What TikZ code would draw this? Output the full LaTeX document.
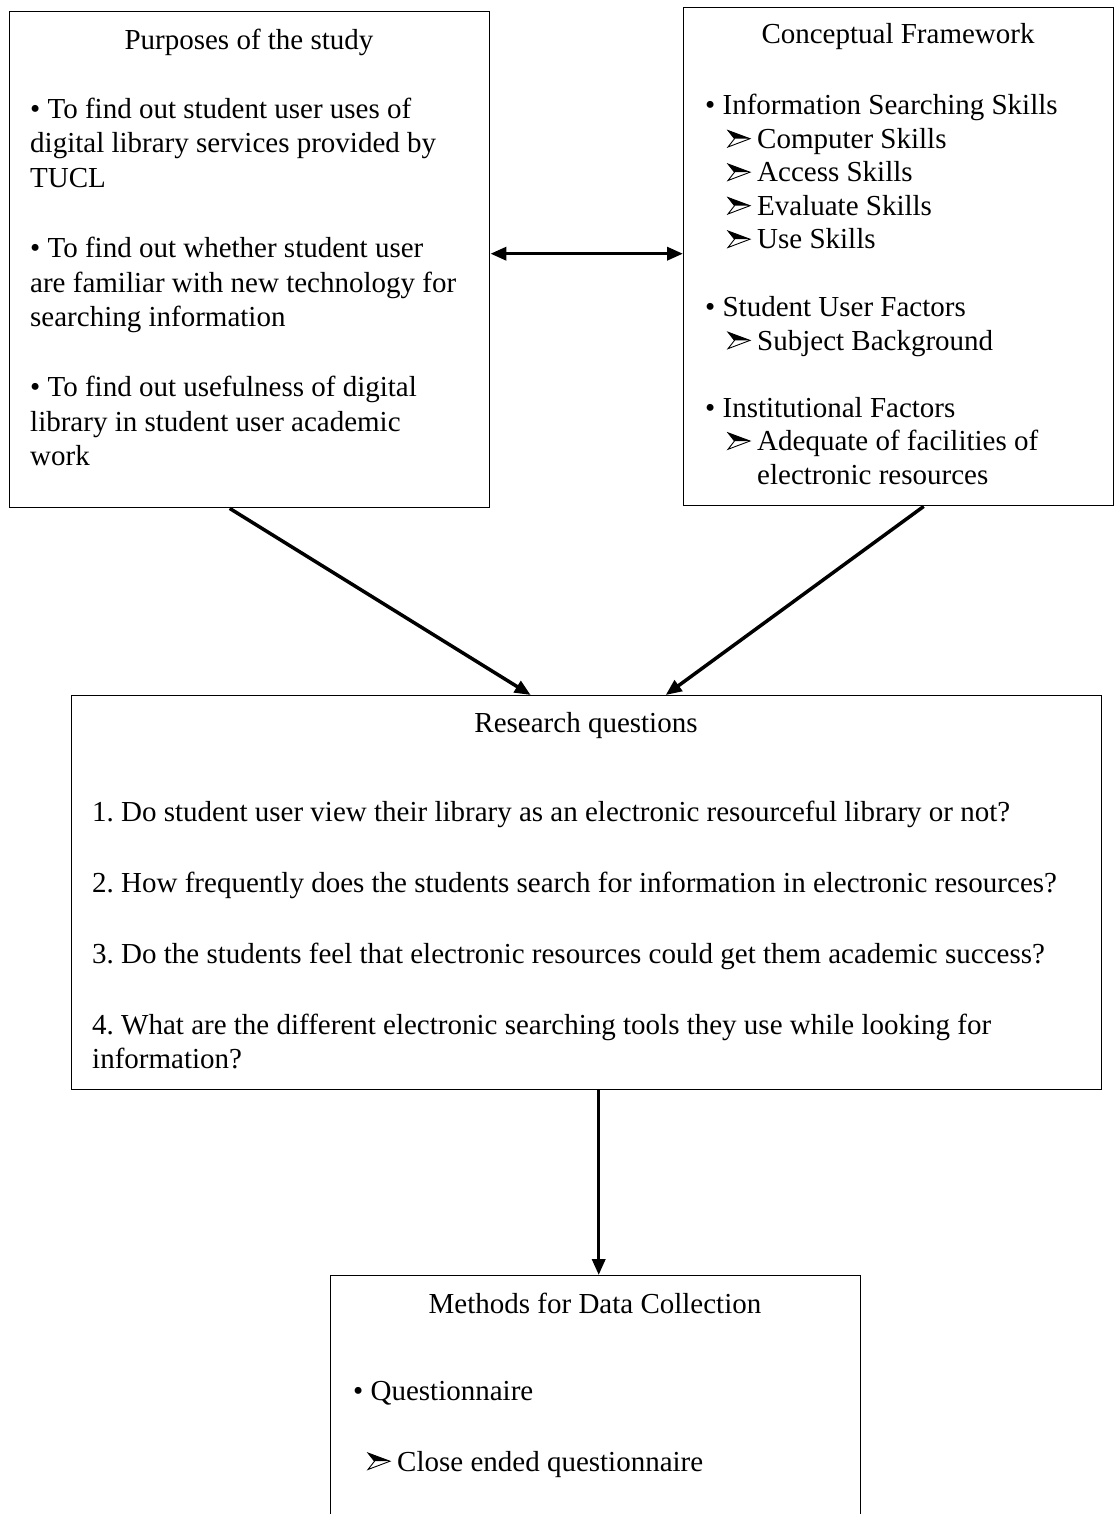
\documentclass[tikz,border=0pt]{standalone}
\usepackage{fontspec}
\setmainfont{Liberation Serif}
\usetikzlibrary{arrows.meta,calc}
\begin{document}
\frenchspacing
\begin{tikzpicture}[x=1pt,y=-1pt,
  box/.style={draw,line width=1.4pt,inner sep=0pt,anchor=north west},
  ttl/.style={anchor=base,inner sep=0pt,font=\fontsize{29}{34.4}\selectfont},
  one/.style={anchor=base west,inner sep=0pt,font=\fontsize{29}{34.4}\selectfont},
  txt/.style={anchor=north west,inner sep=0pt,align=left,font=\fontsize{29}{34.4}\selectfont},
  tipa/.tip={Triangle[length=16pt,width=13pt]},
  conn/.style={line width=3.5pt,-tipa},
  dconn/.style={line width=3.5pt,tipa-tipa},
  arrh/.pic={
    \fill[white] (0,-1.5) -- (6.5,-9.8) -- (0,-18) -- (22,-9.8) -- cycle;
    \fill[black] (0,-18) -- (22,-9.8) -- (6.5,-9.8) -- cycle;
    \draw[line width=0.9pt,line join=miter] (0,-1.5) -- (6.5,-9.8) -- (0,-18) -- (22,-9.8) -- cycle;}]
\useasboundingbox (0,0) rectangle (1115,1514);
\clip (0,0) rectangle (1115,1514);

% boxes
\node[box,minimum width=480pt,minimum height=496pt] (L) at (9,11) {};
\node[box,minimum width=430pt,minimum height=498pt] (R) at (683,7) {};
\node[box,minimum width=1030pt,minimum height=394pt] (Q) at (71,695) {};
\node[box,minimum width=530pt,minimum height=320pt] (M) at (330,1275) {};

% left box text
\node[ttl] (Lt) at (249,49.3) {Purposes of the study};
\node[txt] (L1) at (30,94.2) {\strut • To find out student user uses of\\digital library services provided by\\TUCL};
\node[txt] (L2) at (30,233.6) {\strut • To find out whether student user\\are familiar with new technology for\\searching information};
\node[txt] (L3) at (30,372.5) {\strut • To find out usefulness of digital\\library in student user academic\\work};

% right box text
\node[ttl] (Rt) at (898,43.3) {Conceptual Framework};
\node[one] (R1) at (705,115) {• Information Searching Skills};
\node[one] (R1a) at (757,148.5) {Computer Skills};
\node[one] (R1b) at (757,182) {Access Skills};
\node[one] (R1c) at (757,215.5) {Evaluate Skills};
\node[one] (R1d) at (757,249) {Use Skills};
\node[one] (R2) at (705,316.7) {• Student User Factors};
\node[one] (R2a) at (757,350.2) {Subject Background};
\node[one] (R3) at (705,417.3) {• Institutional Factors};
\node[one] (R3a) at (757,450.8) {Adequate of facilities of};
\node[one] (R3b) at (757,484.3) {electronic resources};
\foreach \n in {R1a,R1b,R1c,R1d,R2a,R3a}
  \pic at ([xshift=-29pt]\n.base west) {arrh};

% research questions
\node[ttl] (Qt) at (586,732) {Research questions};
\node[one] (Q1) at (92,821) {1. Do student user view their library as an electronic resourceful library or not?};
\node[one] (Q2) at (92,892) {2. How frequently does the students search for information in electronic resources?};
\node[one] (Q3) at (92,963) {3. Do the students feel that electronic resources could get them academic success?};
\node[txt] (Q4) at (92,1009.9) {\strut 4. What are the different electronic searching tools they use while looking for\\information?};

% methods
\node[ttl] (Mt) at (595,1313) {Methods for Data Collection};
\node[one] (M1) at (353,1400) {• Questionnaire};
\node[one] (M2) at (397,1471) {Close ended questionnaire};
\pic at ([xshift=-29pt]M2.base west) {arrh};

% connectors
\draw[dconn] ([yshift=6pt]L.east) -- ([yshift=6pt]L.east -| R.west);
\draw[conn] ([xshift=-20pt]L.south) -- ([xshift=-56pt]Q.north);
\draw[conn] ([xshift=25pt]R.south) -- ([xshift=79pt]Q.north);
\draw[conn] ([xshift=12pt]Q.south) -- ([xshift=12pt]Q.south |- M.north);
\end{tikzpicture}
\end{document}
